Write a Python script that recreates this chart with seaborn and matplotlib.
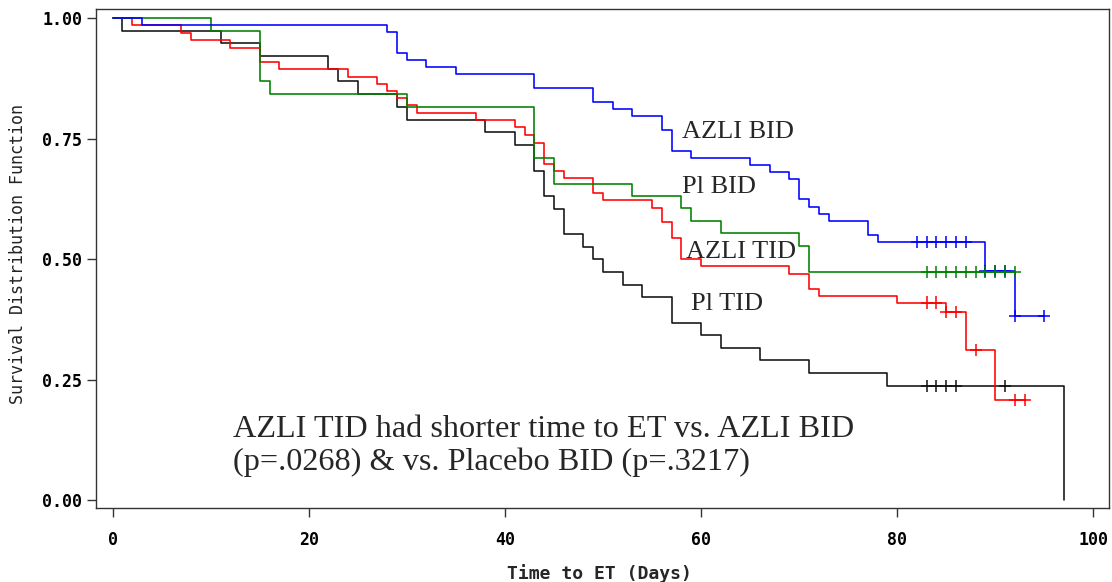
import numpy as np
import pandas as pd
import matplotlib
matplotlib.use("Agg")
import matplotlib.pyplot as plt
import seaborn as sns

# ---------------- data ----------------
groups = ["AZLI BID", "Pl BID", "AZLI TID", "Pl TID"]
colors = ["#0000ff", "#008000", "#ff0000", "#111111"]

azli_bid_t = [0, 3, 28, 29, 30, 32, 35, 43, 49, 51, 53, 56, 57, 59, 65, 67, 69, 70, 71, 72, 73, 77, 78, 89, 92]
azli_bid_s = [1.0, 0.986, 0.971, 0.928, 0.914, 0.899, 0.884, 0.856, 0.826, 0.811, 0.797, 0.768, 0.725,
              0.710, 0.696, 0.681, 0.666, 0.624, 0.609, 0.594, 0.580, 0.551, 0.536, 0.476, 0.382]
azli_bid_cens = [82, 83, 84, 85, 86, 87, 89, 90, 91, 92, 95]

pl_bid_t = [0, 10, 15, 16, 30, 43, 45, 53, 58, 59, 62, 70, 71]
pl_bid_s = [1.0, 0.974, 0.869, 0.842, 0.816, 0.711, 0.657, 0.632, 0.606, 0.580, 0.554, 0.528, 0.474]
pl_bid_cens = [83, 84, 85, 86, 87, 88, 89, 90, 91, 92]

azli_tid_t = [0, 2, 7, 8, 12, 15, 17, 24, 27, 28, 29, 30, 31, 37, 41, 42, 43, 44, 45, 46, 49, 50,
              55, 56, 57, 58, 60, 69, 71, 72, 80, 85, 87, 90]
azli_tid_s = [1.0, 0.986, 0.970, 0.954, 0.939, 0.909, 0.894, 0.879, 0.864, 0.849, 0.834, 0.819, 0.804,
              0.789, 0.774, 0.758, 0.742, 0.698, 0.682, 0.668, 0.637, 0.622, 0.607, 0.577, 0.543,
              0.500, 0.485, 0.470, 0.439, 0.424, 0.410, 0.390, 0.312, 0.208]
azli_tid_cens = [83, 84, 85, 86, 88, 92, 93]

pl_tid_t = [0, 1, 11, 15, 22, 23, 25, 29, 30, 38, 41, 43, 44, 45, 46, 48, 49, 50, 52, 54, 57, 60,
            62, 66, 71, 79, 97]
pl_tid_s = [1.0, 0.974, 0.949, 0.921, 0.895, 0.869, 0.842, 0.816, 0.789, 0.764, 0.737, 0.684, 0.632,
            0.605, 0.553, 0.526, 0.500, 0.474, 0.447, 0.421, 0.368, 0.342, 0.316, 0.290, 0.263,
            0.237, 0.0]
pl_tid_cens = [83, 84, 85, 86, 91]

x_ticks = [0, 20, 40, 60, 80, 100]
y_ticks = [0.0, 0.25, 0.5, 0.75, 1.0]

x_label = "Time to ET (Days)"
y_label = "Survival Distribution Function"
note_line1 = "AZLI TID had shorter time to ET vs. AZLI BID"
note_line2 = "(p=.0268) & vs. Placebo BID (p=.3217)"

# ---------------- build tables ----------------
series = {
    "AZLI BID": (azli_bid_t, azli_bid_s, azli_bid_cens),
    "Pl BID": (pl_bid_t, pl_bid_s, pl_bid_cens),
    "AZLI TID": (azli_tid_t, azli_tid_s, azli_tid_cens),
    "Pl TID": (pl_tid_t, pl_tid_s, pl_tid_cens),
}
rows, crows = [], []
for g, (t, s, c) in series.items():
    tt = list(t)
    ss = list(s)
    end = max(c + [t[-1]])
    if end > tt[-1]:
        tt.append(end)
        ss.append(ss[-1])
    for a, b in zip(tt, ss):
        rows.append((g, a, b))
    t_arr = np.asarray(t)
    s_arr = np.asarray(s)
    for ct in c:
        idx = np.searchsorted(t_arr, ct, side="right") - 1
        crows.append((g, ct, s_arr[idx]))
df = pd.DataFrame(rows, columns=["group", "time", "surv"])
cdf = pd.DataFrame(crows, columns=["group", "time", "surv"])
palette = dict(zip(groups, colors))

# ---------------- plot ----------------
sns.set_style("ticks")
plt.rcParams["font.family"] = ["DejaVu Sans Mono", "DejaVu Sans"]

W, H = 1112, 582
fig = plt.figure(figsize=(W / 100, H / 100), dpi=100)
ax_l, ax_r, ax_t, ax_b = 96, 1109.3, 9, 508.3
ax = fig.add_axes([ax_l / W, 1 - ax_b / H, (ax_r - ax_l) / W, (ax_b - ax_t) / H])

sns.lineplot(data=df, x="time", y="surv", hue="group", hue_order=["Pl TID", "AZLI TID", "Pl BID", "AZLI BID"],
             palette=palette, drawstyle="steps-post", estimator=None, sort=False,
             legend=False, linewidth=1.15, ax=ax)
sns.scatterplot(data=cdf, x="time", y="surv", hue="group", palette=palette, marker="+",
                s=75, linewidth=1.1, legend=False, ax=ax, zorder=3)

ax.set_xlim(-1.70, 101.63)
ax.set_ylim(-0.0172, 1.0193)
ax.set_xticks(x_ticks)
ax.set_xticklabels([str(v) for v in x_ticks])
ax.set_yticks(y_ticks)
ax.set_yticklabels([f"{v:.2f}" for v in y_ticks])

for sp in ax.spines.values():
    sp.set_visible(True)
    sp.set_linewidth(1.0)
    sp.set_color("#333333")

ax.tick_params(axis="both", direction="out", length=6.5, width=1.0, color="#333333")
ax.tick_params(axis="x", pad=10)
ax.tick_params(axis="y", pad=3.5)
for lab in ax.get_xticklabels() + ax.get_yticklabels():
    lab.set_fontfamily("DejaVu Sans Mono")
    lab.set_fontweight("bold")
    lab.set_fontsize(12)
    lab.set_color("black")

ax.set_xlabel(x_label, fontsize=13, fontweight="bold", family="DejaVu Sans Mono")
ax.xaxis.set_label_coords(0.497, -0.112)
ax.set_ylabel(y_label, fontsize=12, family="DejaVu Sans Mono", color="#222222")
ax.yaxis.set_label_coords(-0.068, 0.509)

serif = ["Liberation Serif", "DejaVu Serif"]
ax.text(58.1, 0.751, "AZLI BID", family=serif, fontsize=19, va="baseline", ha="left")
ax.text(58.1, 0.637, "Pl BID", family=serif, fontsize=19, va="baseline", ha="left")
ax.text(58.5, 0.502, "AZLI TID", family=serif, fontsize=19, va="baseline", ha="left")
ax.text(59.0, 0.394, "Pl TID", family=serif, fontsize=19, va="baseline", ha="left")

ax.text(12.3, 0.131, note_line1, family=serif, fontsize=23.2, va="baseline", ha="left")
ax.text(12.3, 0.062, note_line2, family=serif, fontsize=23.2, va="baseline", ha="left")

fig.savefig("out.png", dpi=100)
